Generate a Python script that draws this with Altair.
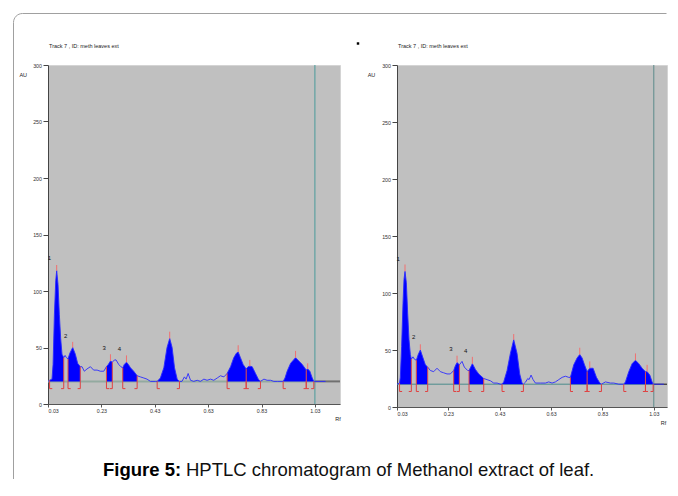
import altair as alt
import pandas as pd

FONT = "Liberation Sans"
BASE = 20            # baseline level (AU)
BRACKET_LOW = 13.6   # lower end of integration brackets (AU)
BRACKET_W = 0.010    # bracket foot length (Rf)
RF_MIN, RF_END = 0.03, 1.03

tick_rf = [0.03, 0.23, 0.43, 0.63, 0.83, 1.03]
tick_au = [0, 50, 100, 150, 200, 250, 300]
peak_labels = ["1", "2", "3", "4"]
track_title = "Track 7 , ID: meth leaves ext"
caption_bold = "Figure 5:"
caption_text = "HPTLC chromatogram of Methanol extract of leaf."

# ---------------- left chromatogram ----------------
left_rf = [0.030, 0.036, 0.045, 0.049, 0.054, 0.059, 0.0625, 0.0675, 0.0725, 0.0775,
           0.0825, 0.089, 0.094, 0.099, 0.105, 0.112, 0.1225, 0.1325, 0.141, 0.151,
           0.1575, 0.166, 0.176, 0.189, 0.201, 0.214, 0.226, 0.239, 0.249, 0.256,
           0.264, 0.271, 0.279, 0.285, 0.295, 0.303, 0.31, 0.316, 0.324, 0.331,
           0.339, 0.351, 0.364, 0.376, 0.389, 0.401, 0.414, 0.4325, 0.439, 0.451,
           0.464, 0.476, 0.486, 0.495, 0.504, 0.514, 0.5225, 0.532, 0.541, 0.5475,
           0.555, 0.564, 0.576, 0.589, 0.601, 0.614, 0.626, 0.639, 0.651, 0.664,
           0.676, 0.689, 0.701, 0.714, 0.726, 0.736, 0.7425, 0.751, 0.761, 0.7725,
           0.78, 0.786, 0.795, 0.8075, 0.818, 0.826, 0.839, 0.851, 0.864, 0.876,
           0.889, 0.911, 0.918, 0.926, 0.939, 0.9575, 0.97, 0.9825, 0.9975, 1.003,
           1.011, 1.02, 1.026, 1.07]
left_au = [20, 21, 22, 35, 79, 109, 118, 106, 79, 58,
           44, 41, 43, 41, 40, 45, 50, 44, 36, 33,
           33, 29, 31, 33, 30, 30, 29, 29, 33, 35,
           38, 37, 39, 39, 35, 33, 32, 35, 37, 35,
           32, 29, 25, 24, 23, 22, 20, 20, 20, 23,
           32, 50, 58, 50, 32, 22, 20, 20, 24, 22,
           27, 21, 20, 21, 20, 22, 21, 22, 21, 23,
           25, 24, 27, 33, 41, 45, 46, 41, 35, 31,
           33, 33.5, 33, 27, 22, 20, 22, 21, 21, 20,
           20, 20, 23, 29, 36, 41, 38, 35, 30, 31,
           29, 23, 20, 20]
left_win_start = [0.036, 0.105, 0.249, 0.31, 0.439, 0.701, 0.7725, 0.911, 0.9975]
left_win_end = [0.089, 0.151, 0.271, 0.364, 0.5225, 0.7725, 0.826, 0.9975, 1.026]
left_peak_rf = [0.0625, 0.1225, 0.264, 0.324, 0.486, 0.7425, 0.786, 0.9575, 1.003]
left_peak_top = [123, 55, 44, 43, 64, 52, 39, 47, 36]
left_label_rf = [0.035, 0.096, 0.24, 0.2975]
left_label_au = [129, 60.5, 49.6, 48.4]

# ---------------- right chromatogram ----------------
right_rf = [0.030, 0.040, 0.043, 0.048, 0.0534, 0.0573, 0.0612, 0.0664, 0.0716, 0.0768,
            0.082, 0.0858, 0.0923, 0.0975, 0.1053, 0.1127, 0.1209, 0.1313, 0.1404, 0.1495,
            0.1599, 0.1729, 0.1858, 0.1988, 0.2118, 0.2248, 0.2378, 0.2508, 0.257, 0.2638,
            0.2729, 0.2832, 0.2923, 0.3053, 0.3105, 0.317, 0.3235, 0.3352, 0.3482, 0.3677,
            0.3806, 0.3936, 0.4066, 0.4196, 0.4326, 0.4391, 0.4456, 0.4586, 0.4716, 0.4845,
            0.4975, 0.5079, 0.517, 0.5222, 0.5313, 0.5391, 0.5443, 0.5521, 0.5599, 0.569,
            0.5884, 0.6079, 0.6209, 0.6339, 0.6469, 0.6599, 0.6729, 0.6858, 0.6988, 0.7053,
            0.7183, 0.7313, 0.7417, 0.7508, 0.7601, 0.7703, 0.7806, 0.7936, 0.8066, 0.8196,
            0.8261, 0.8417, 0.8612, 0.8742, 0.8936, 0.9131, 0.9196, 0.9326, 0.9456, 0.9586,
            0.9716, 0.9845, 0.9975, 1.004, 1.0144, 1.0235, 1.0274, 1.069]
right_au = [20, 21, 26, 53, 91, 112, 119, 109, 82, 59,
            46, 42, 44, 42, 41, 46, 50, 43, 37, 35,
            32, 31, 34, 31, 30, 29, 29, 32, 36, 39,
            37, 40, 35, 32, 32, 35, 38, 33, 29, 25,
            24, 23, 21, 21, 20, 20, 22, 32, 47, 59,
            47, 29, 21, 20, 22, 25, 24, 28, 24, 21,
            21, 21, 22, 21, 22, 24, 26, 27, 26, 26,
            37, 43, 46, 43, 37, 31, 34, 34, 26, 21,
            20, 22, 21, 21, 20, 20, 22, 31, 38, 41,
            38, 34, 31, 31, 28, 22, 20, 20]
right_win_start = [0.040, 0.1053, 0.2508, 0.3105, 0.4391, 0.7053, 0.7703, 0.9131, 0.9975]
right_win_end = [0.0858, 0.1495, 0.2729, 0.3677, 0.5222, 0.7703, 0.8261, 0.9975, 1.0274]
right_peak_rf = [0.0612, 0.1209, 0.2638, 0.3235, 0.4845, 0.7417, 0.7806, 0.9586, 1.004]
right_peak_top = [125, 55, 45, 44, 64, 52, 40, 47, 37]
right_label_rf = [0.035, 0.095, 0.24, 0.2975]
right_label_au = [130, 61, 50.6, 49]


def key(v):
    return round(v, 4)


def panel(rf, au, starts, ends, peak_rf, peak_top, lab_rf, lab_au, width, height, rf_max,
          base_color, base_width, tail_color, vline_color, au_tx, rf_tx, rf_ty, extra):
    lookup = {key(r): a for r, a in zip(rf, au)}
    curve = pd.DataFrame({"rf": rf, "au": au})
    rows = []
    for k, (a, b) in enumerate(zip(starts, ends)):
        for r, v in zip(rf, au):
            if a - 1e-9 <= r <= b + 1e-9:
                rows.append({"rf": r, "au": v, "au2": BASE, "win": k})
    fill = pd.DataFrame(rows)
    edges = sorted(set(key(v) for v in starts + ends))
    edge_df = pd.DataFrame({"rf": edges, "au": [BASE] * len(edges),
                            "au2": [lookup[e] for e in edges]})
    br_v = pd.DataFrame({"rf": starts + ends, "au": BASE, "au2": BRACKET_LOW})
    br_h = pd.DataFrame({"rf": starts + ends,
                         "rf2": [s + BRACKET_W for s in starts] + [e - BRACKET_W for e in ends],
                         "au": BRACKET_LOW})
    ticks = pd.DataFrame({"rf": peak_rf, "au": [lookup[key(p)] for p in peak_rf],
                          "au2": peak_top})
    labels = pd.DataFrame({"rf": lab_rf, "au": lab_au, "txt": peak_labels})
    base_df = pd.DataFrame({"rf": [RF_MIN], "rf2": [RF_END], "au": [BASE]})
    tail_df = pd.DataFrame({"rf": [RF_END], "rf2": [rf_max], "au": [BASE]})
    vline_df = pd.DataFrame({"rf": [RF_END], "au": [0], "au2": [300]})
    title_df = pd.DataFrame({"t": [track_title]})

    x_axis = alt.Axis(values=tick_rf, format=".2f", grid=False, title="Rf",
                      titleX=rf_tx, titleY=rf_ty, titleAlign="center", titleBaseline="middle",
                      titleFontSize=5.5, titleFontWeight="normal", titleColor="#222",
                      titleFont=FONT, labelFont=FONT, labelFontSize=5.3, labelColor="#333",
                      tickSize=3, labelPadding=1, tickColor="#555", domainColor="#555")
    y_axis = alt.Axis(values=tick_au, format="d", grid=False, title="AU", titleAngle=0,
                      titleX=au_tx, titleY=9.3, titleAlign="center", titleBaseline="middle",
                      titleFontSize=5.5, titleFontWeight="normal", titleColor="#222",
                      titleFont=FONT, labelFont=FONT, labelFontSize=5.3, labelColor="#333",
                      tickSize=5, labelPadding=1.5, tickColor="#444", domainColor="#444")
    X = alt.X("rf:Q", scale=alt.Scale(domain=[RF_MIN, rf_max], nice=False, zero=False), axis=x_axis)
    Y = alt.Y("au:Q", scale=alt.Scale(domain=[0, 300], nice=False, zero=False), axis=y_axis)

    layers = list(extra)
    layers += [
        alt.Chart(base_df).mark_rule(color=base_color, strokeWidth=base_width).encode(
            x=X, x2="rf2:Q", y=Y),
        alt.Chart(tail_df).mark_rule(color=tail_color, strokeWidth=base_width).encode(
            x=X, x2="rf2:Q", y=Y),
        alt.Chart(vline_df).mark_rule(color=vline_color, strokeWidth=1).encode(
            x=X, y=Y, y2="au2:Q"),
        alt.Chart(fill).mark_area(color="#0000ff", opacity=1).encode(
            x=X, y=Y, y2="au2:Q", detail="win:N"),
        alt.Chart(curve).mark_line(color="#2a2aff", strokeWidth=0.9).encode(x=X, y=Y),
        alt.Chart(edge_df).mark_rule(color="#e04848", strokeWidth=1).encode(
            x=X, y=Y, y2="au2:Q"),
        alt.Chart(br_v).mark_rule(color="#e04040", strokeWidth=1).encode(
            x=X, y=Y, y2="au2:Q"),
        alt.Chart(br_h).mark_rule(color="#e04040", strokeWidth=1).encode(
            x=X, x2="rf2:Q", y=Y),
        alt.Chart(ticks).mark_rule(color="#f07070", strokeWidth=1).encode(
            x=X, y=Y, y2="au2:Q"),
        alt.Chart(labels).mark_text(font=FONT, fontSize=6, color="#111").encode(
            x=X, y=Y, text="txt:N"),
        alt.Chart(title_df).mark_text(font=FONT, fontSize=5.5, color="#222", align="left",
                                      baseline="middle").encode(
            x=alt.value(1), y=alt.value(-19), text="t:N"),
    ]
    return alt.layer(*layers).properties(width=width, height=height)


# frame: rounded top-left corner, only top and left sides drawn (dash pattern)
FRAME_X, FRAME_X2, FRAME_Y, FRAME_Y2, FRAME_R = -34.5, 618.5, -51.5, 414, 9
fw, fh = FRAME_X2 - FRAME_X, FRAME_Y2 - FRAME_Y
frame_dash = [fw - FRAME_R, fh + fw, fh + 200]

one = pd.DataFrame({"t": [caption_bold], "u": [caption_text]})
left_extra = [
    alt.Chart(one).mark_rect(fill="white", fillOpacity=0, stroke="#a0a0a0", strokeWidth=1,
                             cornerRadiusTopLeft=FRAME_R, strokeDash=frame_dash).encode(
        x=alt.value(FRAME_X), x2=alt.value(FRAME_X2), y=alt.value(FRAME_Y), y2=alt.value(FRAME_Y2)),
    alt.Chart(one).mark_square(size=6, color="black", opacity=1).encode(
        x=alt.value(310), y=alt.value(-21.5)),
    alt.Chart(one).mark_text(font=FONT, fontSize=18.5, fontWeight="bold", color="#000",
                             align="left", baseline="alphabetic").encode(
        x=alt.value(55), y=alt.value(410.5), text="t:N"),
    alt.Chart(one).mark_text(font=FONT, fontSize=18.5, color="#111",
                             align="left", baseline="alphabetic").encode(
        x=alt.value(138), y=alt.value(410.5), text="u:N"),
]

left = panel(left_rf, left_au, left_win_start, left_win_end, left_peak_rf, left_peak_top,
             left_label_rf, left_label_au, 292, 339, 1.124,
             "#93aaa0", 2, "#707070", "#4a9a9a", -25.3, 289.5, 14.5, left_extra)
right = panel(right_rf, right_au, right_win_start, right_win_end, right_peak_rf, right_peak_top,
              right_label_rf, right_label_au, 270, 342, 1.0814,
              "#4a8c8c", 1, "#111111", "#5c8a8a", -26, 266, 15.5, [])

chart = alt.hconcat(left, right, spacing=57, bounds="flush").properties(
    padding={"left": 4, "top": 4, "right": 0, "bottom": 0}
).configure(font=FONT, background="white").configure_view(
    fill="#c0c0c0", stroke="#d4d4d4", strokeWidth=1
)

chart.save("out.html", embed_options={"renderer": "svg", "actions": False})
